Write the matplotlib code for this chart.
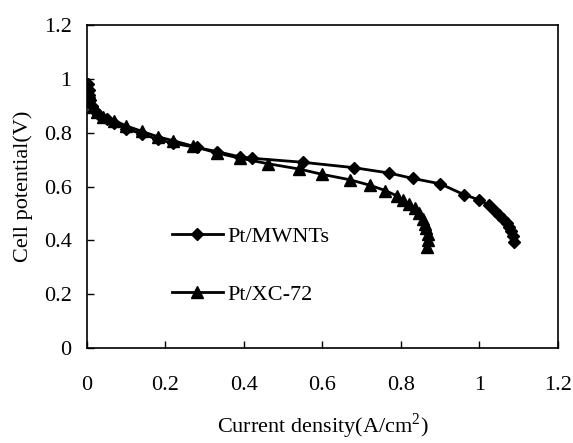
import matplotlib.pyplot as plt

plt.rcParams['font.family'] = ['Liberation Serif', 'DejaVu Serif']
plt.rcParams['mathtext.fontset'] = 'custom'
plt.rcParams['mathtext.rm'] = 'Liberation Serif'

# Pt/MWNTs (diamonds)
mwnt_x = [0.002, 0.004, 0.006, 0.008, 0.012, 0.02, 0.03, 0.05, 0.07, 0.1, 0.14, 0.18,
          0.22, 0.28, 0.33, 0.39, 0.42, 0.55, 0.68, 0.77, 0.83, 0.9, 0.96, 1.0, 1.025,
          1.04, 1.05, 1.06, 1.07, 1.075, 1.08, 1.085, 1.087]
mwnt_y = [0.98, 0.96, 0.94, 0.92, 0.90, 0.88, 0.865, 0.85, 0.835, 0.815, 0.795, 0.775,
          0.76, 0.745, 0.73, 0.71, 0.705, 0.69, 0.67, 0.65, 0.63, 0.61, 0.57, 0.55, 0.53,
          0.51, 0.495, 0.48, 0.465, 0.45, 0.435, 0.415, 0.395]

# Pt/XC-72 (triangles)
xc_x = [0.001, 0.004, 0.008, 0.015, 0.025, 0.04, 0.07, 0.1, 0.14, 0.18, 0.22, 0.27,
        0.33, 0.39, 0.46, 0.54, 0.6, 0.67, 0.72, 0.76, 0.79, 0.805, 0.82, 0.835, 0.845,
        0.855, 0.86, 0.865, 0.868, 0.868, 0.867]
xc_y = [0.98, 0.95, 0.92, 0.895, 0.875, 0.86, 0.845, 0.825, 0.805, 0.785, 0.77, 0.75,
        0.725, 0.705, 0.685, 0.665, 0.645, 0.625, 0.605, 0.585, 0.565, 0.55, 0.535, 0.52,
        0.5, 0.48, 0.46, 0.445, 0.425, 0.40, 0.375]

ticks = [0, 0.2, 0.4, 0.6, 0.8, 1.0, 1.2]
tick_labels = ['0', '0.2', '0.4', '0.6', '0.8', '1', '1.2']

fig = plt.figure(figsize=(5.73, 4.43), dpi=100)
ax = fig.add_axes([0.1518, 0.2144, 0.822, 0.7292])

ax.plot(mwnt_x, mwnt_y, color='black', lw=2.0, marker='D', markersize=6.5, label='Pt/MWNTs')
ax.plot(xc_x, xc_y, color='black', lw=2.0, marker='^', markersize=8, label='Pt/XC-72')

ax.set_xlim(0, 1.2)
ax.set_ylim(0, 1.2)
ax.set_xticks(ticks)
ax.set_xticklabels(tick_labels)
ax.set_yticks(ticks)
ax.set_yticklabels(tick_labels)
ax.tick_params(direction='in', length=5, width=1, labelsize=16)
ax.tick_params(axis='x', pad=20)
ax.tick_params(axis='y', pad=11)
for s in ax.spines.values():
    s.set_linewidth(1.2)

ax.set_xlabel('Current density(A/cm$^2$)', fontsize=16, labelpad=12)
ax.set_ylabel('Cell potential(V)', fontsize=16, labelpad=8)

ax.legend(loc='upper left', bbox_to_anchor=(0.18, 0.377), frameon=False, fontsize=16,
          labelspacing=1.7, handlelength=2.3, handletextpad=0.2, borderpad=0,
          borderaxespad=0)

fig.savefig('out.png', dpi=100)
